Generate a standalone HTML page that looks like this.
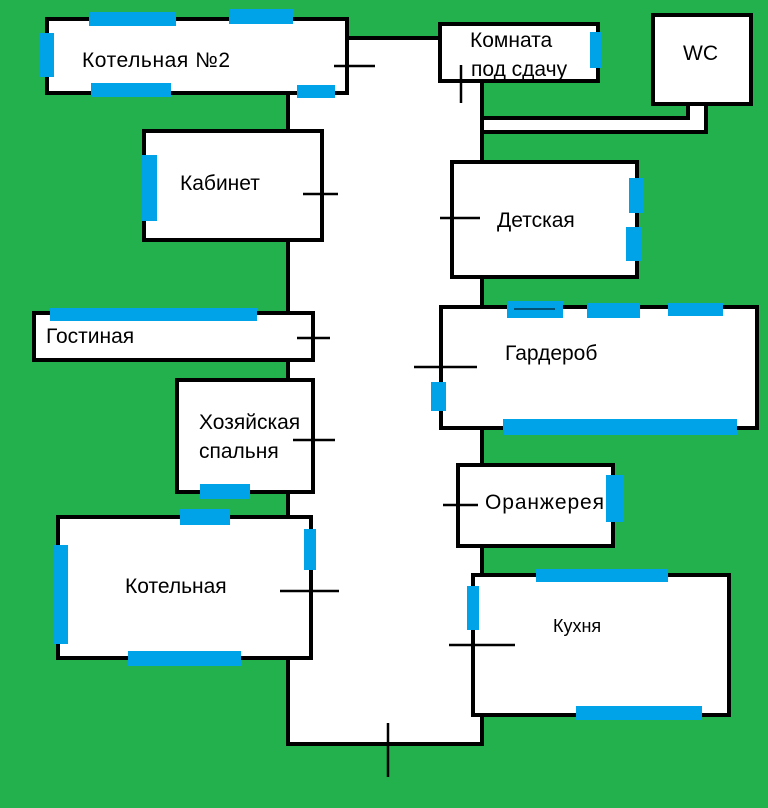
<!DOCTYPE html>
<html><head><meta charset="utf-8"><style>
html,body{margin:0;padding:0;background:#22b14c;}
svg{display:block}
text{font-family:"Liberation Sans","DejaVu Sans",sans-serif;font-size:21px;fill:#000}
</style></head><body>
<svg width="768" height="808" viewBox="0 0 768 808" xmlns="http://www.w3.org/2000/svg">
<rect width="768" height="808" fill="#22b14c"/>
<!-- corridor fill -->
<polygon points="288,38 482,38 482,118 688,118 688,102 706,102 706,132 482,132 482,744 288,744" fill="#fff"/>
<g stroke="#000" stroke-width="4" fill="none">
  <polyline points="347,38 440,38"/>
  <polyline points="288,93 288,744 482,744 482,80"/>
  <polyline points="482,118 688,118 688,104"/>
  <polyline points="482,132 706,132 706,104"/>
</g>
<!-- rooms -->
<g stroke="#000" stroke-width="4" fill="#fff">
  <rect x="47" y="19" width="300" height="74"/>
  <rect x="440" y="24" width="158" height="57"/>
  <rect x="653" y="15" width="98" height="89"/>
  <rect x="144" y="131" width="178" height="109"/>
  <rect x="452" y="162" width="185" height="115"/>
  <rect x="34" y="313" width="279" height="47"/>
  <rect x="441" y="307" width="316" height="121"/>
  <rect x="177" y="380" width="136" height="112"/>
  <rect x="458" y="465" width="155" height="81"/>
  <rect x="58" y="517" width="253" height="141"/>
  <rect x="473" y="575" width="256" height="140"/>
</g>
<!-- windows -->
<g fill="#00a2e8">
  <rect x="89" y="12" width="87" height="14"/>
  <rect x="229" y="9" width="64" height="15"/>
  <rect x="40" y="33" width="14" height="44"/>
  <rect x="91" y="83" width="80" height="14"/>
  <rect x="297" y="85" width="38" height="13"/>
  <rect x="590" y="32" width="12" height="36"/>
  <rect x="141" y="155" width="16" height="66"/>
  <rect x="629" y="178" width="15" height="35"/>
  <rect x="626" y="227" width="15" height="34"/>
  <rect x="50" y="308" width="207" height="13"/>
  <rect x="507" y="301" width="56" height="17"/>
  <rect x="587" y="303" width="53" height="15"/>
  <rect x="668" y="303" width="55" height="13"/>
  <rect x="431" y="382" width="15" height="29"/>
  <rect x="503" y="419" width="234" height="16"/>
  <rect x="200" y="484" width="50" height="15"/>
  <rect x="180" y="509" width="50" height="16"/>
  <rect x="606" y="475" width="17" height="47"/>
  <rect x="304" y="529" width="12" height="41"/>
  <rect x="54" y="545" width="14" height="99"/>
  <rect x="128" y="651" width="113" height="15"/>
  <rect x="536" y="569" width="132" height="13"/>
  <rect x="467" y="586" width="12" height="44"/>
  <rect x="576" y="706" width="126" height="14"/>
</g>
<line x1="514" y1="309" x2="555" y2="309" stroke="#000" stroke-width="1"/>
<!-- doors -->
<g stroke="#000" stroke-width="2.5">
  <line x1="334" y1="66" x2="375" y2="66"/>
  <line x1="461" y1="65" x2="461" y2="103"/>
  <line x1="303" y1="194" x2="338" y2="194"/>
  <line x1="440" y1="218" x2="480" y2="218"/>
  <line x1="297" y1="338" x2="330" y2="338"/>
  <line x1="414" y1="367" x2="477" y2="367"/>
  <line x1="293" y1="440" x2="335" y2="440"/>
  <line x1="443" y1="505" x2="478" y2="505"/>
  <line x1="280" y1="591" x2="339" y2="591"/>
  <line x1="449" y1="645" x2="515" y2="645"/>
  <line x1="388" y1="723" x2="388" y2="777"/>
</g>
<!-- labels -->
<text x="82" y="67" textLength="148">Котельная №2</text>
<text x="470" y="47">Комната</text>
<text x="471" y="76">под сдачу</text>
<text x="683" y="60">WC</text>
<text x="180" y="190">Кабинет</text>
<text x="497" y="227">Детская</text>
<text x="46" y="343">Гостиная</text>
<text x="505" y="360">Гардероб</text>
<text x="199" y="429">Хозяйская</text>
<text x="199" y="458">спальня</text>
<text x="485" y="509" textLength="119">Оранжерея</text>
<text x="125" y="593">Котельная</text>
<text x="553" y="632" style="font-size:18px">Кухня</text>
</svg>
</body></html>
